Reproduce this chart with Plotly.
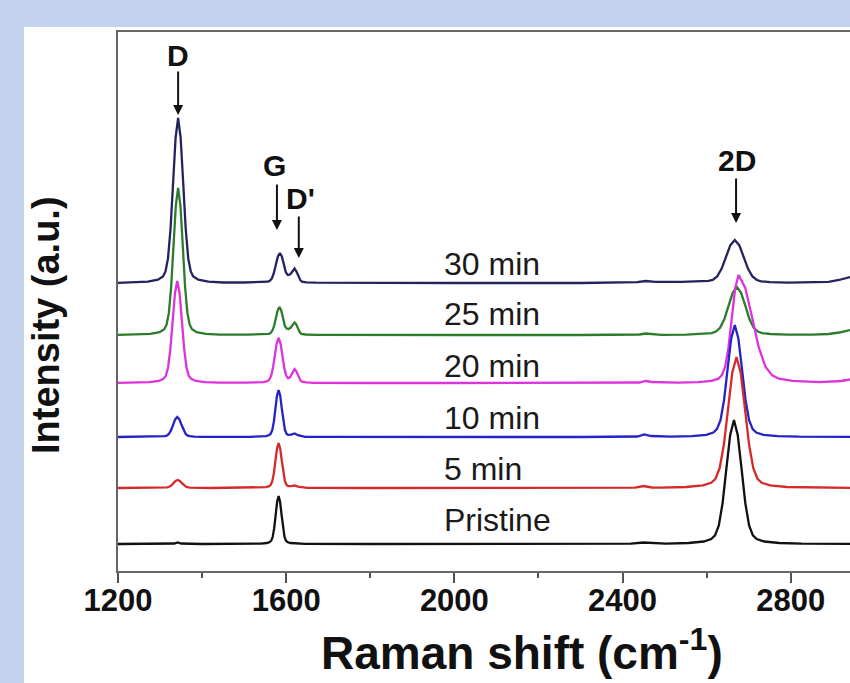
import plotly.graph_objects as go

# ---------------- data ----------------
# Raman shift (cm-1) and intensity above each spectrum's baseline (a.u.)
wn_pristine = [1200, 1300, 1334, 1342, 1350, 1400, 1519, 1540, 1554, 1561, 1564.5, 1568, 1571.5, 1575, 1578.5, 1582,
               1585.5, 1589, 1592.5, 1596, 1599.5, 1603, 1610, 1624, 1645, 1800, 2000, 2300, 2420, 2450, 2480,
               2503, 2557, 2593, 2611, 2620, 2629, 2638, 2647, 2656, 2665, 2674, 2683, 2692, 2701, 2710, 2719,
               2737, 2773, 2827, 2941]
int_pristine = [0, 0, 0.5, 1.5, 0.5, 0, 0.14, 0.4, 1.0, 1.9, 3.4, 7.2, 15.8, 29.3, 42.2, 48,
                42.2, 29.3, 15.8, 7.2, 3.4, 1.9, 1.0, 0.4, 0.14, 0, 0, 0, 0.3, 1.5, 0.5,
                0.4, 1.0, 2.5, 5.0, 8.7, 18.6, 40.9, 75.6, 109, 124, 109, 75.6, 40.9, 18.6, 8.7, 5.0,
                2.5, 1.0, 0.4, 0.2]

wn_5min = [1200, 1280, 1312, 1317, 1322, 1327, 1332, 1337, 1342, 1347, 1352, 1357, 1362, 1367, 1372, 1420,
           1515, 1537, 1552, 1559.5, 1563.25, 1567, 1570.75, 1574.5, 1578.25, 1582, 1585.75, 1589.5, 1593.25,
           1597, 1600.75, 1604.5, 1612, 1620, 1628, 1650, 1800, 2000, 2300, 2430, 2450, 2470,
           2491, 2551, 2591, 2611, 2621, 2631, 2641, 2651, 2661, 2671, 2681, 2691, 2701, 2711, 2721, 2731,
           2751, 2791, 2851, 2941]
int_5min = [0, 0, 0.3, 0.6, 1.2, 2.6, 4.9, 7.0, 8, 7.0, 4.9, 2.6, 1.2, 0.6, 0.3, 0,
            0.14, 0.36, 0.9, 1.8, 3.2, 6.8, 14.9, 27.5, 39.6, 45, 39.6, 27.5, 14.9,
            6.8, 3.2, 2.0, 1.9, 2.5, 1.3, 0.1, 0, 0, 0, 0.3, 2, 0.5,
            0.4, 1.0, 2.6, 5.2, 9.2, 19.7, 43.2, 79.9, 115.3, 131, 115.3, 79.9, 43.2, 19.7, 9.2, 5.2,
            2.6, 1.0, 0.4, 0.2]

wn_10min = [1200, 1281, 1301, 1311, 1316, 1321, 1326, 1331, 1336, 1341, 1346, 1351, 1356, 1361, 1366, 1371,
            1381, 1401, 1515, 1537, 1552, 1559.5, 1563.25, 1567, 1570.75, 1574.5, 1578.25, 1582, 1585.75,
            1589.5, 1593.25, 1597, 1600.75, 1604.5, 1612, 1620, 1628, 1645, 1680, 1800, 2000, 2300,
            2435, 2452, 2468, 2495, 2514, 2565, 2599, 2616, 2624.5, 2633, 2641.5, 2650, 2658.5, 2667,
            2675.5, 2684, 2692.5, 2701, 2709.5, 2718, 2735, 2769, 2820, 2941]
int_10min = [0, 0.16, 0.4, 0.8, 1.4, 3.0, 6.6, 12.2, 17.6, 20, 17.6, 12.2, 6.6, 3.0, 1.4, 0.8,
             0.4, 0.16, 0.14, 0.38, 0.9, 1.9, 3.3, 7.1, 15.5, 28.7, 41.4, 47, 41.4,
             28.7, 15.5, 7.1, 3.3, 2.1, 2.4, 3.5, 1.8, 0.2, 0.05, 0, 0, 0,
             0.5, 2.5, 1, 0.5, 0.34, 0.9, 2.2, 4.5, 7.8, 16.8, 37, 68.3, 98.6, 112,
             98.6, 68.3, 37, 16.8, 7.8, 4.5, 2.2, 0.9, 0.34, 0.2]

wn_20min = [1200, 1242, 1275, 1297, 1308, 1313.5, 1319, 1324.5, 1330, 1335.5, 1341, 1346.5, 1352, 1357.5,
            1363, 1368.5, 1374, 1385, 1407, 1440, 1501, 1528, 1546, 1555, 1559.5, 1564, 1568.5, 1573,
            1577.5, 1582, 1586.5, 1591, 1595.5, 1600, 1604.5, 1609, 1613, 1616.5, 1620, 1623.5, 1627,
            1630.5, 1634, 1637.5, 1648, 1665, 1700, 1800, 2000, 2300, 2440, 2455, 2470, 2532, 2580,
            2612, 2628, 2636, 2644, 2652, 2660, 2668, 2676, 2692, 2708, 2724, 2740, 2756, 2772, 2804,
            2868, 2900, 2920, 2941]
int_20min = [0.1, 0.3, 0.8, 2.0, 4.1, 7.1, 15.3, 33.7, 62.2, 89.8, 102, 89.8, 62.2, 33.7,
             15.3, 7.1, 4.1, 2.0, 0.8, 0.3, 0.34, 0.46, 0.9, 1.8, 3.2, 6.8, 14.9, 27.5,
             39.6, 45, 39.6, 27.5, 14.9, 7.4, 4.8, 5.7, 9.2, 12.5, 13.9, 12.2, 8.6,
             4.9, 2.6, 1.4, 0.6, 0.2, 0.1, 0, 0, 0, 0.5, 2, 1, 0.3, 0.9,
             2.2, 4.3, 7.6, 16.2, 35.6, 65.9, 95, 108, 95, 65.9, 35.6, 16.2, 7.6, 4.3, 2.2,
             0.9, 1.2, 2, 3.5]

wn_25min = [1200, 1244, 1277, 1299, 1310, 1315.5, 1321, 1326.5, 1332, 1337.5, 1343, 1348.5, 1354, 1359.5,
            1365, 1370.5, 1376, 1387, 1409, 1442, 1507.5, 1533, 1550, 1558.5, 1562.75, 1567, 1571.25,
            1575.5, 1579.75, 1584, 1588.25, 1592.5, 1596.75, 1601, 1605, 1610, 1613.5, 1616.75, 1620,
            1623.25, 1626.5, 1629.75, 1633, 1636.25, 1646, 1670, 1700, 1800, 2000, 2300, 2440, 2455,
            2470, 2492, 2552, 2592, 2612, 2622, 2632, 2642, 2652, 2662, 2672, 2682, 2692, 2702, 2712,
            2722, 2732, 2752, 2792, 2852, 2890, 2915, 2941]
int_25min = [0.2, 0.44, 1.2, 2.9, 5.9, 10.3, 22.1, 48.5, 89.7, 129.4, 147, 129.4, 89.7, 48.5,
             22.1, 10.3, 5.9, 2.9, 1.2, 0.44, 0.4, 0.4, 0.7, 1.1, 2.0, 4.2, 9.2,
             17.1, 24.6, 28, 24.6, 17.1, 9.2, 6.5, 6.0, 7.0, 9.0, 11.3, 12.6,
             11.2, 7.8, 4.5, 2.2, 1.2, 0.5, 0.15, 0.1, 0, 0, 0, 0.5, 1.5,
             0.8, 0.14, 0.4, 1.0, 1.9, 3.4, 7.2, 15.8, 29.3, 42.2, 48, 42.2, 29.3, 15.8, 7.2,
             3.4, 1.9, 1.0, 0.4, 0.3, 1, 2.5, 5]

wn_30min = [1200, 1235, 1271, 1295, 1307, 1313, 1319, 1325, 1331, 1337, 1343, 1349, 1355, 1361, 1367,
            1373, 1379, 1391, 1415, 1451, 1499.5, 1528, 1547, 1556.5, 1561.25, 1566, 1570.75, 1575.5,
            1580.25, 1585, 1589.75, 1594.5, 1599.25, 1604, 1609, 1613, 1616.5, 1620, 1623.5, 1627,
            1630.5, 1634, 1637.5, 1648, 1670, 1720, 1800, 2000, 2300, 2435, 2455, 2470, 2478,
            2541, 2583, 2604, 2614.5, 2625, 2635.5, 2646, 2656.5, 2667, 2677.5, 2688, 2698.5, 2709,
            2719.5, 2730, 2751, 2793, 2850, 2890, 2915, 2941]
int_30min = [0.2, 0.5, 1.3, 3.3, 6.6, 11.6, 24.8, 54.5, 100.7, 145.2, 165, 145.2, 100.7, 54.5, 24.8,
             11.6, 6.6, 3.3, 1.3, 0.5, 0.5, 0.55, 0.8, 1.3, 2.2, 4.6, 10, 18.4,
             26.5, 30, 26.5, 18.6, 10.5, 8.0, 8.5, 10.5, 13, 14.5, 12.2, 8.6,
             5.0, 2.6, 1.4, 0.6, 0.3, 0.15, 0, 0, 0, 0.8, 2, 1.2, 1.2,
             1.2, 1.5, 2.2, 3.0, 6.5, 14.2, 26.2, 37.8, 43, 37.8, 26.2, 14.2, 6.5,
             3.0, 1.7, 0.86, 0.34, 0.5, 1.2, 3, 6]

series_names = ["30 min", "25 min", "20 min", "10 min", "5 min", "Pristine"]
series_wn = [wn_30min, wn_25min, wn_20min, wn_10min, wn_5min, wn_pristine]
series_int = [int_30min, int_25min, int_20min, int_10min, int_5min, int_pristine]
stack_offsets = [288, 236, 188, 134, 83, 27]

x_tick_values = [1200, 1600, 2000, 2400, 2800]
peak_names = ["D", "G", "D'", "2D"]
peak_shifts = [1343, 1578, 1630, 2670]

# ---------------- styling ----------------
colors = ["#23235e", "#2b7d2b", "#dd33dd", "#2323c8", "#d42a2a", "#111111"]
label_y = [307, 257, 205, 153, 102, 51]
FONT = "Liberation Sans, Arial, sans-serif"

fig = go.Figure()
for name, xs, ys, off, col in zip(series_names, series_wn, series_int, stack_offsets, colors):
    assert len(xs) == len(ys), name
    fig.add_trace(go.Scatter(
        x=xs, y=[v + off for v in ys], mode="lines", name=name,
        line=dict(color=col, width=2.3), showlegend=False, hoverinfo="skip"))

annotations = []
# series labels
for name, ly in zip(series_names, label_y):
    annotations.append(dict(x=1970, y=ly, xref="x", yref="y", text=name, showarrow=False,
                            xanchor="left", yanchor="middle",
                            font=dict(family=FONT, size=32, color="#1a1a1a")))

# peak labels with arrows: (text x, text y, arrow tip y, arrow tail y)
peak_geom = [(1343, 516, 456, 501), (1573, 406, 341, 388), (1633, 373, 313, 356), (2672, 411, 348, 394)]
for pname, px, (tx, ty, tip, tail) in zip(peak_names, peak_shifts, peak_geom):
    annotations.append(dict(x=tx, y=ty, xref="x", yref="y", text=pname, showarrow=False,
                            xanchor="center", yanchor="middle",
                            font=dict(family=FONT, size=30, color="#111", weight="bold")))
    annotations.append(dict(x=px, y=tip, ax=px, ay=tail, xref="x", yref="y", axref="x", ayref="y",
                            text="", showarrow=True, arrowhead=2, arrowsize=1, arrowwidth=2,
                            arrowcolor="#111", standoff=0, startstandoff=0))

# axis titles
annotations.append(dict(x=(522 - 118) / 732, y=(571 - 650) / 539, xref="paper", yref="paper",
                        text="Raman shift (cm<sup>-1</sup>)", showarrow=False,
                        xanchor="center", yanchor="middle",
                        font=dict(family=FONT, size=46, color="#111", weight="bold")))
annotations.append(dict(x=(46 - 118) / 732, y=(571 - 325) / 539, xref="paper", yref="paper",
                        text="Intensity (a.u.)", showarrow=False, textangle=-90,
                        xanchor="center", yanchor="middle",
                        font=dict(family=FONT, size=38, color="#111", weight="bold")))

fig.update_layout(
    width=850, height=683, autosize=False,
    margin=dict(l=118, r=0, t=32, b=112, pad=0),
    paper_bgcolor="#c3d2ec", plot_bgcolor="white",
    annotations=annotations,
    shapes=[dict(type="rect", xref="paper", yref="paper",
                 x0=(24 - 118) / 732, x1=1.01, y0=(571 - 690) / 539, y1=(571 - 27) / 539,
                 fillcolor="white", line=dict(width=0), layer="below")],
    xaxis=dict(range=[1200, 2941], tickvals=x_tick_values, ticktext=[str(v) for v in x_tick_values],
               ticks="outside", ticklen=10, tickwidth=2, tickcolor="#555", ticklabelstandoff=-9,
               minor=dict(dtick=200, tick0=1200, ticks="outside", ticklen=5, tickwidth=2, tickcolor="#555"),
               showline=True, linecolor="#666", linewidth=2, mirror=True,
               showgrid=False, zeroline=False,
               tickfont=dict(family=FONT, size=31, color="#111", weight="bold")),
    yaxis=dict(range=[0, 539], showline=True, linecolor="#666", linewidth=2,
               ticks="", showticklabels=False, showgrid=False, zeroline=False),
)

fig.write_html("out.html", config={"displayModeBar": False},
               post_script="document.body.style.margin='0px';")
